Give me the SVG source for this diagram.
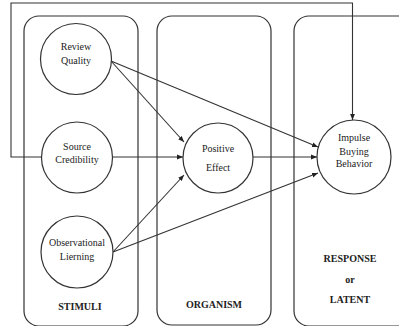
<svg xmlns="http://www.w3.org/2000/svg" width="399" height="326" viewBox="0 0 399 326">
<defs>
<marker id="ah" viewBox="0 0 10 10" refX="10" refY="5" markerWidth="6" markerHeight="6" orient="auto" markerUnits="userSpaceOnUse">
<path d="M0,1 L10,5 L0,9 z" fill="#222"/>
</marker>
<style>
.box{fill:none;stroke:#333;stroke-width:1.2}
.node{fill:#fff;stroke:#333;stroke-width:1.2}
.t{font-family:"Liberation Serif","Times New Roman",serif;font-size:10px;fill:#222;text-anchor:middle}
.lb{font-family:"Liberation Serif","Times New Roman",serif;font-size:10px;font-weight:bold;fill:#222;text-anchor:middle}
.c{fill:none;stroke:#333;stroke-width:1.1}
</style>
</defs>
<rect width="399" height="326" fill="#fff"/>
<g id="stimuli-box">
<rect class="box" x="24" y="16" width="114" height="310" rx="15"/>
<text class="lb" x="80" y="310">STIMULI</text>
</g>
<g id="organism-box">
<rect class="box" x="157" y="16" width="114" height="309" rx="15"/>
<text class="lb" x="214" y="308">ORGANISM</text>
</g>
<g id="response-box">
<rect class="box" x="294" y="16" width="120" height="310" rx="15"/>
<text class="lb" x="350" y="262">RESPONSE</text>
<text class="lb" x="350" y="283">or</text>
<text class="lb" x="350" y="303">LATENT</text>
</g>
<g id="connectors">
<path class="c" d="M41,157 L11,157 L11,3 L352.5,3 L352.5,120" marker-end="url(#ah)"/>
<line class="c" x1="111" y1="61" x2="184" y2="142" marker-end="url(#ah)"/>
<line class="c" x1="111" y1="61" x2="318" y2="147" marker-end="url(#ah)"/>
<line class="c" x1="113" y1="157" x2="183" y2="157" marker-end="url(#ah)"/>
<line class="c" x1="253" y1="157" x2="317" y2="157" marker-end="url(#ah)"/>
<line class="c" x1="113" y1="252" x2="184" y2="175" marker-end="url(#ah)"/>
<line class="c" x1="113" y1="252" x2="318" y2="173" marker-end="url(#ah)"/>
</g>
<g id="review-quality">
<circle class="node" cx="76" cy="59" r="35.5"/>
<text class="t" x="76" y="50">Review</text>
<text class="t" x="76" y="64">Quality</text>
</g>
<g id="source-credibility">
<circle class="node" cx="77" cy="157.5" r="35.5"/>
<text class="t" x="77" y="150">Source</text>
<text class="t" x="77" y="163">Credibility</text>
</g>
<g id="observational-learning">
<circle class="node" cx="77" cy="252" r="36"/>
<text class="t" x="77" y="246">Observational</text>
<text class="t" x="77" y="260">Lierning</text>
</g>
<g id="positive-effect">
<circle class="node" cx="218" cy="158" r="35"/>
<text class="t" x="218" y="152">Positive</text>
<text class="t" x="218" y="171">Effect</text>
</g>
<g id="impulse-buying-behavior">
<circle class="node" cx="354" cy="157" r="37"/>
<text class="t" x="354" y="141">Impulse</text>
<text class="t" x="354" y="155">Buying</text>
<text class="t" x="354" y="167">Behavior</text>
</g>
</svg>
